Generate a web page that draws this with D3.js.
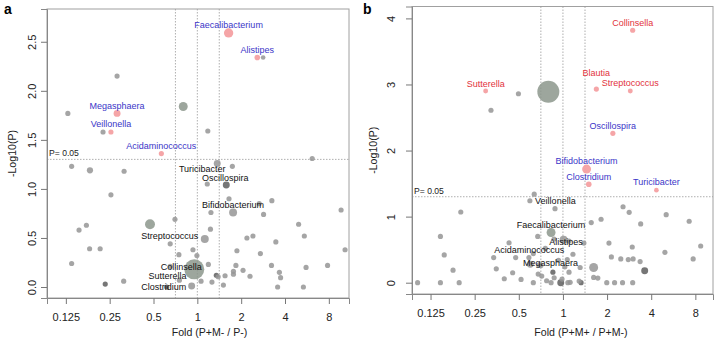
<!DOCTYPE html>
<html><head><meta charset="utf-8">
<script src="https://cdn.jsdelivr.net/npm/d3@7"></script>
<style>body{margin:0;background:#fff}svg{display:block;font-family:"Liberation Sans",Arial,sans-serif}</style>
</head><body><svg id="c" width="716" height="341"></svg>
<script>
// ---------- Panel a data: Fold (P+M- / P-) vs -Log10(P) ----------
const aNames = ["","","Megasphaera","","Veillonella","Acidaminococcus","","Faecalibacterium","Alistipes","","","","Turicibacter","","","","","","","","","","","","","","","","","","Oscillospira","","","Bifidobacterium","","Streptococcus","","","","","Collinsella","","","","","","","","","Clostridium","","Sutterella","","","","","","","","","","","","","","","","","","",""];
const aFold  = [0.129,0.281,0.281,0.225,0.255,0.566,0.80,1.64,2.58,2.83,1.18,6.15,1.37,1.74,0.137,0.183,0.314,0.255,0.154,0.173,0.182,0.215,0.137,0.233,0.312,0.473,0.651,0.702,0.747,1.17,1.58,1.65,1.24,1.76,1.23,1.125,2.19,1.87,0.933,0.993,0.953,1.19,1.35,1.39,1.55,1.77,1.84,2.06,1.51,0.914,1.26,0.753,1.06,0.651,0.616,3.25,2.66,2.85,9.71,4.96,5.43,3.46,2.41,10.34,2.71,3.23,5.58,7.84,1.77,2.30,3.66,3.73,3.56,5.35];
const aLogP  = [1.77,2.15,1.77,1.58,1.58,1.36,1.84,2.59,2.34,2.34,1.59,1.31,1.26,1.23,1.23,1.19,1.18,0.94,0.58,0.63,0.39,0.39,0.24,0.03,0.06,0.64,0.44,0.69,0.33,1.05,1.04,0.90,0.76,0.76,0.59,0.49,0.50,0.37,0.38,0.32,0.18,0.23,0.12,0.105,0.115,0.16,0.22,0.17,0.02,0.01,0.05,0.07,0.06,0.21,0.0,0.88,0.85,0.74,0.785,0.64,0.52,0.46,0.52,0.38,0.34,0.22,0.20,0.22,0.13,0.11,0.15,0.095,0.0,0.0];
const aSize  = [1.1,1.1,2.0,1.1,1.1,1.1,3.3,3.6,1.3,0.9,1.1,1.1,2.0,1.1,1.1,1.6,1.1,1.1,1.1,1.1,1.1,1.1,1.1,1.1,1.1,4.1,1.1,1.1,1.1,1.1,2.0,1.1,1.1,2.6,1.1,2.6,1.1,1.1,1.1,1.1,16.5,1.1,1.1,1.1,1.1,1.1,1.1,1.1,1.1,2.0,1.1,1.1,1.1,1.1,1.1,1.1,1.1,1.1,1.1,1.1,1.1,1.1,1.1,1.1,1.1,1.1,1.1,1.1,1.1,1.1,1.1,1.1,1.1,1.1];
const aType  = ["n","n","s","n","s","s","b","s","s","n","n","n","n","n","n","n","n","n","n","n","n","n","n","d","n","b","n","n","n","n","d","n","n","n","n","n","n","n","n","n","b","n","d","n","n","n","n","n","n","n","n","n","n","n","d","n","n","n","n","n","n","n","n","n","n","n","n","n","n","n","n","n","n","n"];

// ---------- Panel b data: Fold (P+M+ / P+M-) vs -Log10(P) ----------
const bNames = ["Sutterella","","","","Collinsella","Blautia","Streptococcus","Oscillospira","Bifidobacterium","Clostridium","Turicibacter","","Veillonella","","","","","","","","","Faecalibacterium","","","Alistipes","","","","","","","","","","","","","","","","","","","","","","","","","","","","","","","","","","","","","","","","","","","","","","","","","Acidaminococcus","","","","","","","","","Megasphaera"];
const bFold  = [0.297,0.497,0.323,0.795,2.99,1.69,2.88,2.19,1.45,1.50,4.34,0.637,0.595,0.883,2.57,2.83,5.06,7.26,3.39,1.82,1.56,0.83,0.673,1.01,1.10,1.39,2.06,2.97,8.70,4.96,2.14,2.48,2.79,3.01,3.36,7.73,1.31,1.62,3.61,0.854,1.10,0.707,1.62,1.73,1.99,2.25,2.55,2.99,1.33,1.29,0.966,0.83,0.717,0.774,0.871,0.986,1.12,0.628,0.102,0.146,0.196,0.201,0.146,0.155,0.178,0.337,0.351,0.398,0.429,0.476,0.454,0.518,0.586,0.628,0.599,0.678,0.688,0.758,0.87,1.08,1.03,1.07,0.933,1.17];
const bLogP  = [2.90,2.86,2.61,2.89,3.82,2.93,2.90,2.26,1.72,1.49,1.40,1.34,1.24,1.12,1.15,1.065,1.03,0.93,0.89,0.96,0.91,0.76,0.70,0.65,0.63,0.60,0.60,0.54,0.555,0.46,0.39,0.36,0.35,0.36,0.32,0.36,0.23,0.23,0.18,0.16,0.16,0.26,0.08,0.07,0.0,0.0,0.0,0.0,0.0,0.025,0.0,0.0,0.10,0.03,0.075,0.055,0.005,0.0,0.0,0.0,0.0,1.07,0.70,0.42,0.19,0.38,0.21,0.06,0.605,0.38,0.15,0.05,0.38,0.44,0.28,0.13,0.27,0.52,0.66,0.0,0.24,0.35,0.34,0.43];
const bSize  = [1.0,1.1,1.1,20,1.1,1.1,1.0,1.1,3.3,1.3,0.9,1.1,1.1,1.1,1.1,1.1,1.1,1.1,1.1,1.1,1.1,3.3,1.1,2.6,1.1,1.1,1.1,1.1,1.1,1.1,1.1,1.1,1.1,1.1,1.1,1.1,1.1,3.3,2.0,1.1,1.1,1.1,1.1,1.1,1.1,1.1,1.1,1.1,1.1,1.1,2.0,1.1,1.1,1.1,1.1,1.1,1.1,1.1,1.1,1.1,1.1,1.1,1.1,1.1,1.1,1.1,1.1,1.1,1.1,1.1,1.1,1.1,1.1,1.1,2.0,1.1,1.1,1.1,1.1,1.1,1.1,1.1,1.1,1.1];
const bType  = ["s","n","n","b","s","s","s","s","s","s","s","n","n","n","n","n","n","n","n","n","n","b","n","n","n","n","n","n","n","n","n","n","n","n","n","n","n","n","d","d","n","n","n","n","n","n","n","n","d","n","d","n","n","n","n","n","n","n","n","n","n","n","n","n","n","n","n","n","n","n","n","n","n","n","n","n","n","n","n","n","n","n","n","n"];
const bRedLabels = ["Sutterella","Collinsella","Blautia","Streptococcus"];

const xTicks = [0.125,0.25,0.5,1,2,4,8];
const aYTicks = [0,0.5,1.0,1.5,2.0,2.5];
const bYTicks = [0,1,2,3,4];
const foldLines = [Math.SQRT1_2, 1, Math.SQRT2];
const pCut = 0.05;

// ---------- layout ----------
const panels = [
  {letter:"a", names:aNames, fold:aFold, logp:aLogP, size:aSize, type:aType, yTicks:aYTicks, yFmt:d3.format(".1f"),
   xDom:[Math.pow(2,-3.43),Math.pow(2,3.46)], xRange:[47,349], yDom:[-0.112,2.834], yRange:[298,9],
   ylabOff:15, xlabOff:18.7, xTitle:"Fold (P+M- / P-)", xTitleX:209.5, yTitleX:12, letterX:4, red:[],
   lab:{Megasphaera:[0,-8],Veillonella:[0,-8],Acidaminococcus:[0,-8],Faecalibacterium:[0,-8.5],Alistipes:[0,-8],
        Turicibacter:[-15,5],Oscillospira:[-1,-7],Bifidobacterium:[0,-8],Streptococcus:[-35,-3],Collinsella:[-13,-2.5],Sutterella:[-12,-4],Clostridium:[-28,0.5]}},
  {letter:"b", names:bNames, fold:bFold, logp:bLogP, size:bSize, type:bType, yTicks:bYTicks, yFmt:d3.format("d"),
   xDom:[Math.pow(2,-3.42),Math.pow(2,3.40)], xRange:[412,713], yDom:[-0.171,4.18], yRange:[294,6.5],
   ylabOff:20.5, xlabOff:19.3, xTitle:"Fold (P+M+ / P+M-)", xTitleX:581, yTitleX:373, letterX:363, red:bRedLabels,
   lab:{Sutterella:[0,-7],Collinsella:[0,-7.5],Blautia:[0,-16],Streptococcus:[0,-8],Oscillospira:[0,-8],Bifidobacterium:[0,-8],
        Clostridium:[0,-7],Turicibacter:[0,-8],Veillonella:[25.5,0],Faecalibacterium:[0,-8],Alistipes:[-3,0.5],Acidaminococcus:[-4,-4],Megasphaera:[-8,2.5]}}
];

const svg = d3.select("#c");
const rScale = d3.scaleSqrt().domain([0,20]).range([0,11]);
const fill = {n:"#959595", d:"#5e5e5e", b:"#8c968c", s:"#f4a0a2"};
const blue = "#3a35c8", red = "#e2323c";

panels.forEach(P => {
  const x = d3.scaleLog().base(2).domain(P.xDom).range(P.xRange);
  const y = d3.scaleLinear().domain(P.yDom).range(P.yRange);
  const g = svg.append("g");
  const [x0,x1] = P.xRange, [y0,y1] = P.yRange;

  // frame
  g.append("rect").attr("x",x0).attr("y",y1).attr("width",x1-x0).attr("height",y0-y1)
    .attr("fill","none").attr("stroke","#a0a0a0").attr("stroke-width",1);

  // reference lines
  foldLines.forEach(f => g.append("line").attr("x1",x(f)).attr("x2",x(f)).attr("y1",y1).attr("y2",y0)
    .attr("stroke","#9a9a9a").attr("stroke-width",0.8).attr("stroke-dasharray","1.5,1.5"));
  const yc = y(-Math.log10(pCut));
  g.append("line").attr("x1",x0).attr("x2",x1).attr("y1",yc).attr("y2",yc)
    .attr("stroke","#9a9a9a").attr("stroke-width",0.8).attr("stroke-dasharray","1.5,1.5");
  g.append("text").attr("x",x0+2).attr("y",yc-3).attr("font-size",8.6).attr("fill","#222").text("P= 0.05");

  // axes
  const xa = g.append("g").attr("transform",`translate(0,${y0})`)
    .call(d3.axisBottom(x).tickValues(xTicks).tickFormat(d=>String(d)).tickSizeOuter(0).tickSize(6));
  xa.select(".domain").attr("stroke","#888");
  xa.selectAll(".tick line").attr("stroke","#777");
  xa.selectAll("text").attr("font-size",11).attr("fill","#222").attr("y",P.xlabOff).attr("dy","0.35em")
    .attr("font-family","Liberation Sans, Arial, sans-serif");
  const ya = g.append("g").attr("transform",`translate(${x0},0)`)
    .call(d3.axisLeft(y).tickValues(P.yTicks).tickFormat(P.yFmt).tickSizeOuter(0).tickSize(6));
  ya.select(".domain").attr("stroke","#888");
  ya.selectAll(".tick line").attr("stroke","#777");
  ya.selectAll("text").attr("font-size",11).attr("fill","#222").attr("x",0).attr("y",-P.ylabOff).attr("dy","0.35em")
    .attr("text-anchor","middle").attr("transform","rotate(-90)")
    .attr("font-family","Liberation Sans, Arial, sans-serif");

  // titles
  g.append("text").attr("x",P.xTitleX).attr("y",336).attr("text-anchor","middle").attr("font-size",10.6).attr("fill","#222").text(P.xTitle);
  g.append("text").attr("transform",`translate(${P.yTitleX},${(y0+y1)/2}) rotate(-90)`).attr("text-anchor","middle")
    .attr("dy","0.35em").attr("font-size",10.6).attr("fill","#222").text("-Log10(P)");
  g.append("text").attr("x",P.letterX).attr("y",14).attr("font-size",14).attr("font-weight","bold").text(P.letter);

  // points
  const pts = P.fold.map((f,i)=>({f, p:P.logp[i], s:P.size[i], t:P.type[i], n:P.names[i]}));
  pts.sort((a,b)=>b.s-a.s);
  g.append("g").selectAll("circle").data(pts).join("circle")
    .attr("cx",d=>x(d.f)).attr("cy",d=>y(d.p)).attr("r",d=>rScale(d.s))
    .attr("fill",d=>fill[d.t]).attr("fill-opacity",d=>d.t==="s"?0.95:0.85);

  // labels
  g.append("g").selectAll("text").data(pts.filter(d=>d.n)).join("text")
    .attr("x",d=>x(d.f)+P.lab[d.n][0]).attr("y",d=>y(d.p)+P.lab[d.n][1]).attr("dy","0.35em")
    .attr("text-anchor","middle").attr("font-size",9)
    .attr("fill",d=> d.t!=="s" ? "#111" : (P.red.includes(d.n)? red : blue))
    .text(d=>d.n);
});
</script></body></html>
